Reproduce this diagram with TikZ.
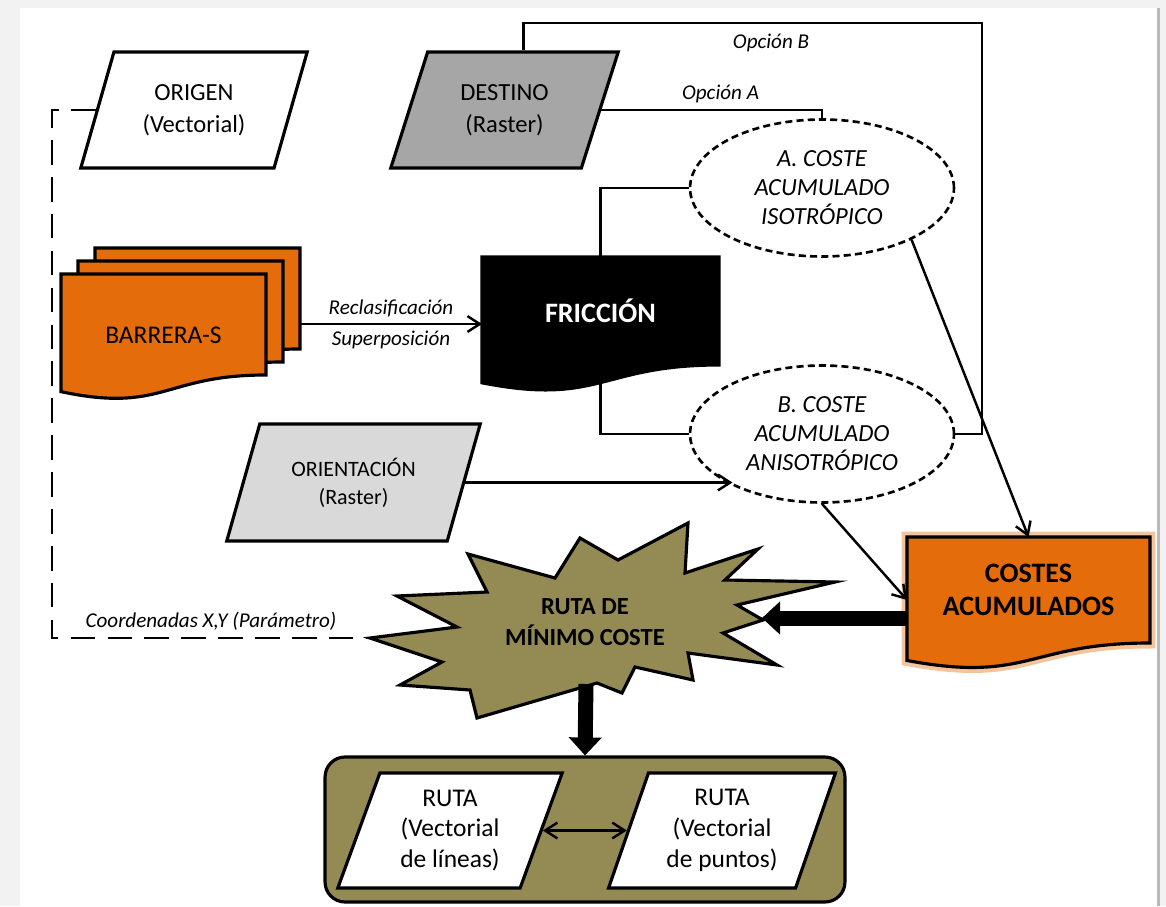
\documentclass[tikz,border=0pt]{standalone}
\usepackage{fontspec}
\setmainfont{Carlito}
\usetikzlibrary{shapes.geometric, arrows.meta, calc, backgrounds, positioning}

\definecolor{naranja}{HTML}{E46C0A}
\definecolor{oliva}{HTML}{948A54}
\definecolor{grisdest}{HTML}{A6A6A6}
\definecolor{grisorient}{HTML}{D9D9D9}

\tikzset{
    entrada/.style={trapezium, trapezium left angle=68, trapezium right angle=112,
        trapezium stretches, draw, line width=1.8pt, minimum width=4.56cm,
        minimum height=2.32cm, inner sep=1pt, align=center,
        font=\fontsize{14}{18}\selectfont},
    coste/.style={ellipse, draw, dash pattern=on 4pt off 2.4pt, line width=1.5pt,
        minimum width=5.28cm, minimum height=2.74cm, inner sep=0pt, align=center,
        font=\fontsize{14}{16.5}\selectfont\itshape},
    docnode/.style={rectangle, inner sep=0pt, outer sep=0pt, align=center},
    linea/.style={line width=1.4pt},
    flecha/.style={-{Straight Barb[length=7pt, width=9pt]}, line width=1.4pt},
    flechas/.style={{Straight Barb[length=7pt, width=9pt]}-{Straight Barb[length=7pt, width=9pt]}, line width=1.4pt},
    gruesa/.style={-{Triangle[width=0.64cm, length=0.36cm]}, line width=0.3cm},
    etiqueta/.style={font=\fontsize{12}{14}\selectfont\itshape},
}

\newcommand{\hojadoc}[3]{%
    \path[#2] (#1.north west) -- (#1.north east) -- (#1.south east)
        .. controls ($(#1.south east)!0.5!(#1.south west)$)
        and ($(#1.south east)!0.5!(#1.south west)+(0,{0.38*#3})$)
        .. ($(#1.south west)+(0,{0.165*#3})$) -- cycle;}

\begin{document}
\begin{tikzpicture}[x=0.02cm, y=-0.02cm]
    \useasboundingbox (0,0) rectangle (1166,906);

    \node[entrada] (origen) at (194,110) {ORIGEN\\(Vectorial)};
    \node[entrada, fill=grisdest] (destino) at (504.5,110) {DESTINO\\(Raster)};
    \node[entrada, fill=grisorient, trapezium left angle=67, trapezium right angle=113,
        minimum width=5.1cm, minimum height=2.34cm,
        font=\fontsize{12.5}{16}\selectfont] (orient) at (353.5,482.5) {ORIENTACIÓN\\(Raster)};

    \node[coste] (costeA) at (822,188) {A. COSTE\\ACUMULADO\\ISOTRÓPICO};
    \node[coste] (costeB) at (822,434) {B. COSTE\\ACUMULADO\\ANISOTRÓPICO};

    \node[docnode, minimum width=4.1cm, minimum height=2.02cm] (barrera3) at (197.5,298.5) {};
    \node[docnode, minimum width=4.1cm, minimum height=2.02cm] (barrera2) at (180.5,311.5) {};
    \node[docnode, minimum width=4.1cm, minimum height=2.02cm,
        label={[font=\fontsize{14.5}{18}\selectfont, yshift=-0.21cm]center:BARRERA-S}] (barrera) at (163.5,324.5) {};
    \node[docnode, minimum width=4.74cm, minimum height=2.16cm, text=white,
        font=\fontsize{16}{19}\selectfont\bfseries] (friccion) at (600.5,311) {FRICCIÓN};
    \node[docnode, minimum width=4.86cm, minimum height=2.12cm,
        font=\fontsize{16}{19}\selectfont\bfseries] (costes) at (1028.5,590) {COSTES\\ACUMULADOS};

    \begin{scope}[on background layer]
        \fill[gray!10] (0,0) rectangle (1166,906);
        \fill[white] (20,8) rectangle (1157,906);
        \fill[gray!55] (1157,8) rectangle (1160,906);
        \hojadoc{barrera3}{draw, fill=naranja, line width=1.8pt}{101}
        \hojadoc{barrera2}{draw, fill=naranja, line width=1.8pt}{101}
        \hojadoc{barrera}{draw, fill=naranja, line width=1.8pt}{101}
        \hojadoc{friccion}{draw, fill=black, line width=1.8pt}{108}
        \hojadoc{costes}{draw=naranja!40, line width=0.22cm}{106}
        \hojadoc{costes}{draw, fill=naranja, line width=1.8pt}{106}
    \end{scope}

    % ruta de minimo coste
    \path[draw, fill=oliva, line width=1.8pt] (580,538) -- (618,560) -- (688,523) -- (685,573)
        -- (758,549) -- (725,580) -- (835,582) -- (737,605) -- (763,620) -- (723,633)
        -- (777,665) -- (688,653) -- (693,680) -- (635,667) -- (622,693) -- (597,683)
        -- (477,718) -- (470,690) -- (400,685) -- (442,662) -- (370,638) -- (457,627)
        -- (397,596) -- (487,592) -- (468,554) -- (555,578) -- cycle;
    \node[align=center, font=\fontsize{14}{17.5}\selectfont\bfseries] (ruta) at (585,622) {RUTA DE\\MÍNIMO COSTE};
    \coordinate (rutaE) at (762,618);
    \coordinate (rutaW) at (370,638);
    \coordinate (rutaS) at (586,684);

    \node[draw, fill=oliva, rounded corners=0.4cm, line width=1.8pt,
        minimum width=10.4cm, minimum height=2.9cm] (salida) at (585,829.5) {};
    \node[entrada, fill=white, trapezium left angle=70, trapezium right angle=110,
        minimum width=4.52cm, minimum height=2.3cm,
        font=\fontsize{14.5}{17.5}\selectfont] (rutaL) at (450,830.5) {RUTA\\(Vectorial\\de líneas)};
    \node[entrada, fill=white, trapezium left angle=70, trapezium right angle=110,
        minimum width=4.56cm, minimum height=2.3cm,
        font=\fontsize{14.5}{17.5}\selectfont] (rutaR) at (722,830.5) {RUTA\\(Vectorial\\de puntos)};

    \coordinate (esqB) at (982,23);
    \coordinate (esq) at (52,638);
    \coordinate (rc) at (390,324);

    \draw[linea] (destino.top side) |- (esqB) node[below=2pt, etiqueta, pos=0.77] {Opción B} |- (costeB.east);
    \draw[linea] (destino.right side) -| node[above, etiqueta, pos=0.27] {Opción A} (costeA.north);
    \draw[linea] (friccion.north) |- (costeA.west);
    \draw[linea] (friccion.south) |- (costeB.west);
    \draw[flecha] (rc -| barrera3.east) -- node[above, etiqueta] {Reclasificación}
        node[below, etiqueta] {Superposición} (rc -| friccion.west);
    \draw[flecha] (orient.right side) -- (orient.right side -| costeB.210);
    \draw[flecha] (costeA.-30) -- (costes.north);
    \draw[flecha] (costeB.south) -- ([yshift=-0.2cm]costes.west);
    \draw[gruesa] (rutaE -| costes.west) -- (rutaE);
    \draw[gruesa] (rutaS) -- (salida.north);
    \draw[flechas] (rutaL.right side) -- (rutaR.left side);
    \draw[line width=1.6pt, dash pattern=on 14pt off 7pt] (origen.left side) -| (esq)
        -- node[above, etiqueta] {Coordenadas X,Y (Parámetro)} (rutaW);
\end{tikzpicture}
\end{document}
